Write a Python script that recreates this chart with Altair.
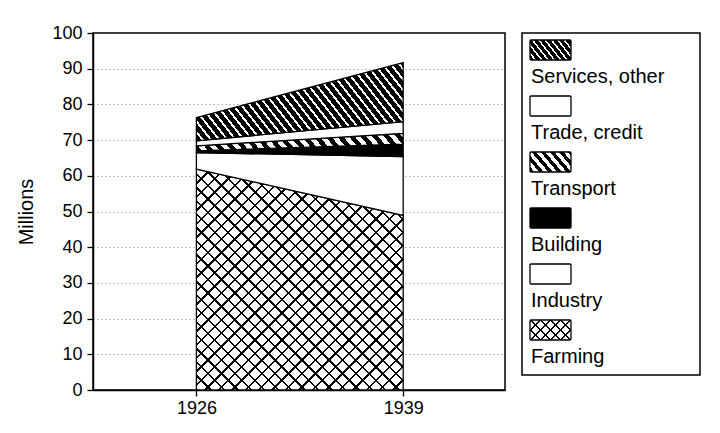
import math
import altair as alt
import pandas as pd

# ---------------- data ----------------
years = [1926, 1939]
sectors = ["Farming", "Industry", "Building", "Transport", "Trade, credit", "Services, other"]
farming = [61.9, 48.9]
industry = [4.6, 16.5]
building = [0.5, 3.5]
transport = [1.4, 3.0]
trade = [1.4, 3.3]
services = [6.5, 16.5]
y_ticks = [0, 10, 20, 30, 40, 50, 60, 70, 80, 90, 100]
x_ticks = [1926, 1939]

series = [farming, industry, building, transport, trade, services]

# ---------------- layout ----------------
W_PLOT, H_PLOT = 412, 357
X_DOMAIN = [1919.5, 1945.4]
LEG_W, LEG_H = 178, 342
FONT = "Liberation Sans"

rows = []
for i, s in enumerate(sectors):
    for j, yr in enumerate(years):
        lo = sum(series[k][j] for k in range(i))
        hi = lo + series[i][j]
        rows.append({"sector": s, "year": yr, "lo": lo, "hi": hi})
df = pd.DataFrame(rows)


def stripes(W, H, theta, period, pattern, mirror=False):
    th = math.radians(theta)
    s, c = math.sin(th), math.cos(th)
    L = W * s + H * c
    lam = L / (W * W * s * s + H * H * c * c)
    gx, gy = lam * W * s, lam * H * c
    if mirror:
        x1, y1, x2, y2 = 0, 0, gx, gy
    else:
        x1, y1, x2, y2 = 0, 1, gx, 1 - gy
    stops = []
    pos = 0.0
    while pos < 1.0:
        for color, frac in pattern:
            b = min(1.0, pos + frac * period / L)
            stops.append(alt.GradientStop(color=color, offset=round(pos, 5)))
            stops.append(alt.GradientStop(color=color, offset=round(b, 5)))
            pos = b
            if pos >= 1.0:
                break
    return alt.LinearGradient(gradient="linear", stops=stops, x1=x1, y1=y1, x2=x2, y2=y2)


CLEAR = "rgba(0,0,0,0)"


def fills_for(sector, W, H, small=False):
    """Return list of fills (layered) for a sector."""
    if sector == "Farming":
        p = 7.0 if small else 9.5
        return [stripes(W, H, 45, p, [("black", 0.18), ("white", 0.82)]),
                stripes(W, H, 45, p, [("black", 0.18), (CLEAR, 0.82)], mirror=True)]
    if sector == "Building":
        return ["black"]
    if sector == "Transport":
        p = 7.0 if small else 9.0
        return [stripes(W, H, 50, p, [("black", 0.5), ("white", 0.5)])]
    if sector == "Services, other":
        p = 5.0 if small else 6.5
        return [stripes(W, H, 52, p, [("black", 0.7), ("white", 0.3)])]
    return ["white"]


px_per_year = W_PLOT / (X_DOMAIN[1] - X_DOMAIN[0])
px_per_unit = H_PLOT / 100.0

x_enc = alt.X("year:Q", scale=alt.Scale(domain=X_DOMAIN, nice=False, zero=False),
              axis=alt.Axis(values=x_ticks, format="d", grid=False, title=None,
                            labelPadding=3))
y_enc = alt.Y("hi:Q", scale=alt.Scale(domain=[0, 100], nice=False),
              axis=alt.Axis(values=y_ticks, grid=True, gridDash=[1, 3], gridColor="#333",
                            gridOpacity=0.6, title="Millions", titlePadding=15,
                            titleFontSize=20, labelPadding=5))

layers = []
for i, s in enumerate(sectors):
    sub = df[df.sector == s]
    W = (years[1] - years[0]) * px_per_year
    H = (sub.hi.max() - sub.lo.min()) * px_per_unit
    fl = fills_for(s, W, H)
    for k, f in enumerate(fl):
        last = k == len(fl) - 1
        kw = dict(fill=f, opacity=1, fillOpacity=1)
        if last:
            kw.update(stroke="black", strokeWidth=1.3)
        layers.append(
            alt.Chart(df).transform_filter(alt.datum.sector == s)
            .mark_area(**kw)
            .encode(x=x_enc, y=y_enc, y2="lo:Q")
        )

main = alt.layer(*layers).properties(width=W_PLOT, height=H_PLOT)

# ---------------- legend panel ----------------
leg_items = sectors[::-1]
leg_df = pd.DataFrame({"label": leg_items, "idx": list(range(len(leg_items)))})
leg_scale = alt.Scale(domain=[0, LEG_H / 56.0], nice=False, reverse=True, zero=False)

leg_layers = []
for i, s in enumerate(leg_items):
    fl = fills_for(s, 41, 20, small=True)
    for k, f in enumerate(fl):
        last = k == len(fl) - 1
        kw = dict(fill=f, opacity=1)
        if last:
            kw.update(stroke="black", strokeWidth=1.3, cornerRadius=1)
        leg_layers.append(
            alt.Chart(leg_df).transform_filter(alt.datum.label == s)
            .transform_calculate(y0="datum.idx + 0.125", y1="datum.idx + 0.482")
            .mark_rect(**kw)
            .encode(x=alt.value(8), x2=alt.value(49),
                    y=alt.Y("y0:Q", scale=leg_scale, axis=None), y2="y1:Q")
        )

leg_text = (
    alt.Chart(leg_df)
    .transform_calculate(ty="datum.idx + 0.78")
    .mark_text(align="left", baseline="middle", fontSize=20, font=FONT, color="black")
    .encode(x=alt.value(9), y=alt.Y("ty:Q", scale=leg_scale, axis=None), text="label:N")
)
legend = alt.layer(*leg_layers, leg_text).properties(width=LEG_W, height=LEG_H)

chart = (
    alt.hconcat(main, legend, spacing=17, bounds="flush")
    .properties(padding={"left": 8, "top": 15, "right": 5, "bottom": 5}, background="white")
    .configure_view(stroke="black", strokeWidth=1.5)
    .configure_axis(domainColor="black", domainWidth=1.5, tickColor="black", tickSize=6,
                    tickWidth=1.3, labelFont=FONT, labelFontSize=18, labelColor="black",
                    titleFont=FONT, titleFontSize=18, titleFontWeight="normal",
                    titleColor="black")
)

chart.save("out.html", embed_options={"renderer": "svg", "actions": False})
